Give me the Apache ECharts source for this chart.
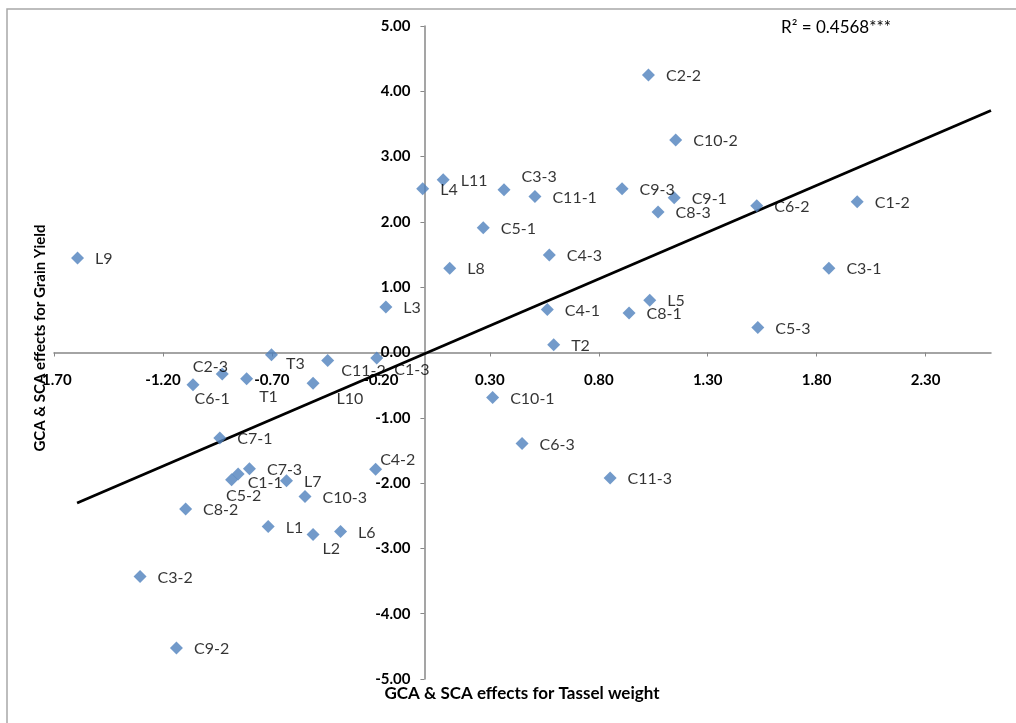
<!DOCTYPE html>
<html>
<head>
<meta charset="utf-8">
<script src="https://cdn.jsdelivr.net/npm/echarts@6/dist/echarts.min.js"></script>
<style>
  html, body { margin: 0; padding: 0; background: #fff; }
  #chart { width: 1016px; height: 723px; }
</style>
</head>
<body>
<div id="chart"></div>
<script>
// point names and GCA/SCA effects
var names = ['L1','L2','L3','L4','L5','L6','L7','L8','L9','L10','L11',
             'T1','T2','T3',
             'C1-1','C1-2','C1-3','C2-2','C2-3','C3-1','C3-2','C3-3',
             'C4-1','C4-2','C4-3','C5-1','C5-2','C5-3','C6-1','C6-2','C6-3',
             'C7-1','C7-3','C8-1','C8-2','C8-3','C9-1','C9-2','C9-3',
             'C10-1','C10-2','C10-3','C11-1','C11-2','C11-3'];
var tasselWeight = [-0.717,-0.511,-0.177,-0.008,1.034,-0.385,-0.633,0.116,-1.592,-0.511,0.086,
                    -0.816,0.593,-0.702,
                    -0.855,1.986,-0.219,1.028,-0.928,1.856,-1.305,0.365,
                    0.564,-0.224,0.573,0.270,-0.885,1.530,-1.062,1.525,0.448,
                    -0.939,-0.803,0.939,-1.096,1.072,1.146,-1.138,0.907,
                    0.313,1.153,-0.548,0.507,-0.444,0.852];
var grainYield = [-2.665,-2.787,0.695,2.507,0.802,-2.741,-1.965,1.292,1.446,-0.469,2.645,
                  -0.403,0.118,-0.035,
                  -1.862,2.308,-0.086,4.248,-0.331,1.292,-3.430,2.492,
                  0.658,-1.786,1.492,1.910,-1.949,0.383,-0.495,2.247,-1.394,
                  -1.311,-1.781,0.603,-2.398,2.150,2.369,-4.527,2.507,
                  -0.689,3.253,-2.205,2.389,-0.123,-1.923];
var xTicks = [-1.7,-1.2,-0.7,-0.2,0.3,0.8,1.3,1.8,2.3];
var trendX = [-1.594, 2.6];
var trendY = [-2.306, 3.706];

// labels that were dragged away from their default right-hand spot
var labelNudge = {
  'C3-3': [0,-13], 'T3': [-3,9], 'C11-2': [-4,10], 'C1-3': [0,12],
  'C2-3': [-47,-7], 'C6-1': [-16,14], 'T1': [-5,18], 'L10': [6,16],
  'C1-1': [-8,9], 'C5-2': [-23,16], 'C4-2': [-13,-9], 'L2': [-8,14]
};

var points = [];
for (var i = 0; i < names.length; i++) {
  var off = labelNudge[names[i]] || [0, 1];
  points.push({name: names[i], value: [tasselWeight[i], grainYield[i]],
               label: {offset: off}});
}
var trend = [];
for (var j = 0; j < trendX.length; j++) trend.push([trendX[j], trendY[j]]);

// plot box and axis ranges; the axes are moved onto the zero lines with offset
var W = 1016, H = 723;
var g = {left: 54, right: 25, top: 26, bottom: 44};
var xMin = -1.7, xMax = 2.6, yMin = -5, yMax = 5;
var gw = W - g.left - g.right, gh = H - g.top - g.bottom;
var yAxisShift = (0 - xMin) / (xMax - xMin) * gw;
var xAxisShift = (0 - yMin) / (yMax - yMin) * gh;

var font = 'Lato, "Open Sans", sans-serif';
var chart = echarts.init(document.getElementById('chart'));
chart.setOption({
  animation: false,
  backgroundColor: '#fff',
  grid: {left: g.left, right: g.right, top: g.top, bottom: g.bottom, outerBoundsMode: 'none'},
  xAxis: {
    type: 'value', min: xMin, max: xMax, interval: 0.5,
    position: 'bottom', offset: -xAxisShift,
    axisLine: {onZero: false, lineStyle: {color: '#878787', width: 1.5}},
    axisTick: {length: 4, lineStyle: {color: '#878787'}, customValues: xTicks},
    axisLabel: {customValues: xTicks, margin: 20, color: '#000', fontFamily: font,
                fontWeight: 'bold', fontSize: 15,
                formatter: function (v) { return v.toFixed(2); }},
    splitLine: {show: false}
  },
  yAxis: {
    type: 'value', min: yMin, max: yMax, interval: 1,
    position: 'left', offset: -yAxisShift,
    axisLine: {onZero: false, lineStyle: {color: '#878787', width: 1.5}},
    axisTick: {length: 4, lineStyle: {color: '#878787'}},
    axisLabel: {margin: 14, color: '#000', fontFamily: font, fontWeight: 'bold', fontSize: 15,
                formatter: function (v) { return v.toFixed(2); }},
    splitLine: {show: false}
  },
  graphic: [
    {type: 'rect', z: -1, shape: {x: 7, y: 9, width: 1100, height: 800},
     style: {fill: 'none', stroke: '#a8a8a8', lineWidth: 1.5}},
    {type: 'text', x: 40, y: 338, rotation: Math.PI / 2,
     style: {text: 'GCA & SCA effects for Grain Yield', fontFamily: font, fontWeight: 'bold',
             fontSize: 15, fill: '#000', textAlign: 'center', textVerticalAlign: 'middle'}},
    {type: 'text', x: 522, y: 694,
     style: {text: 'GCA & SCA effects for Tassel weight', fontFamily: font, fontWeight: 'bold',
             fontSize: 17, fill: '#000', textAlign: 'center', textVerticalAlign: 'middle'}},
    {type: 'text', x: 781, y: 28,
     style: {text: 'R² = 0.4568***', fontFamily: font, fontSize: 17, fill: '#000',
             textAlign: 'left', textVerticalAlign: 'middle'}}
  ],
  series: [
    {
      type: 'line', data: trend, symbol: 'none', z: 1,
      lineStyle: {color: '#000', width: 2.8}
    },
    {
      type: 'scatter', data: points, symbol: 'diamond', symbolSize: 13, z: 2,
      itemStyle: {color: '#4F81BD'},
      label: {show: true, position: 'right', distance: 11, color: '#000',
              fontFamily: font, fontSize: 16,
              formatter: function (p) { return p.name; }}
    }
  ]
});
</script>
</body>
</html>
